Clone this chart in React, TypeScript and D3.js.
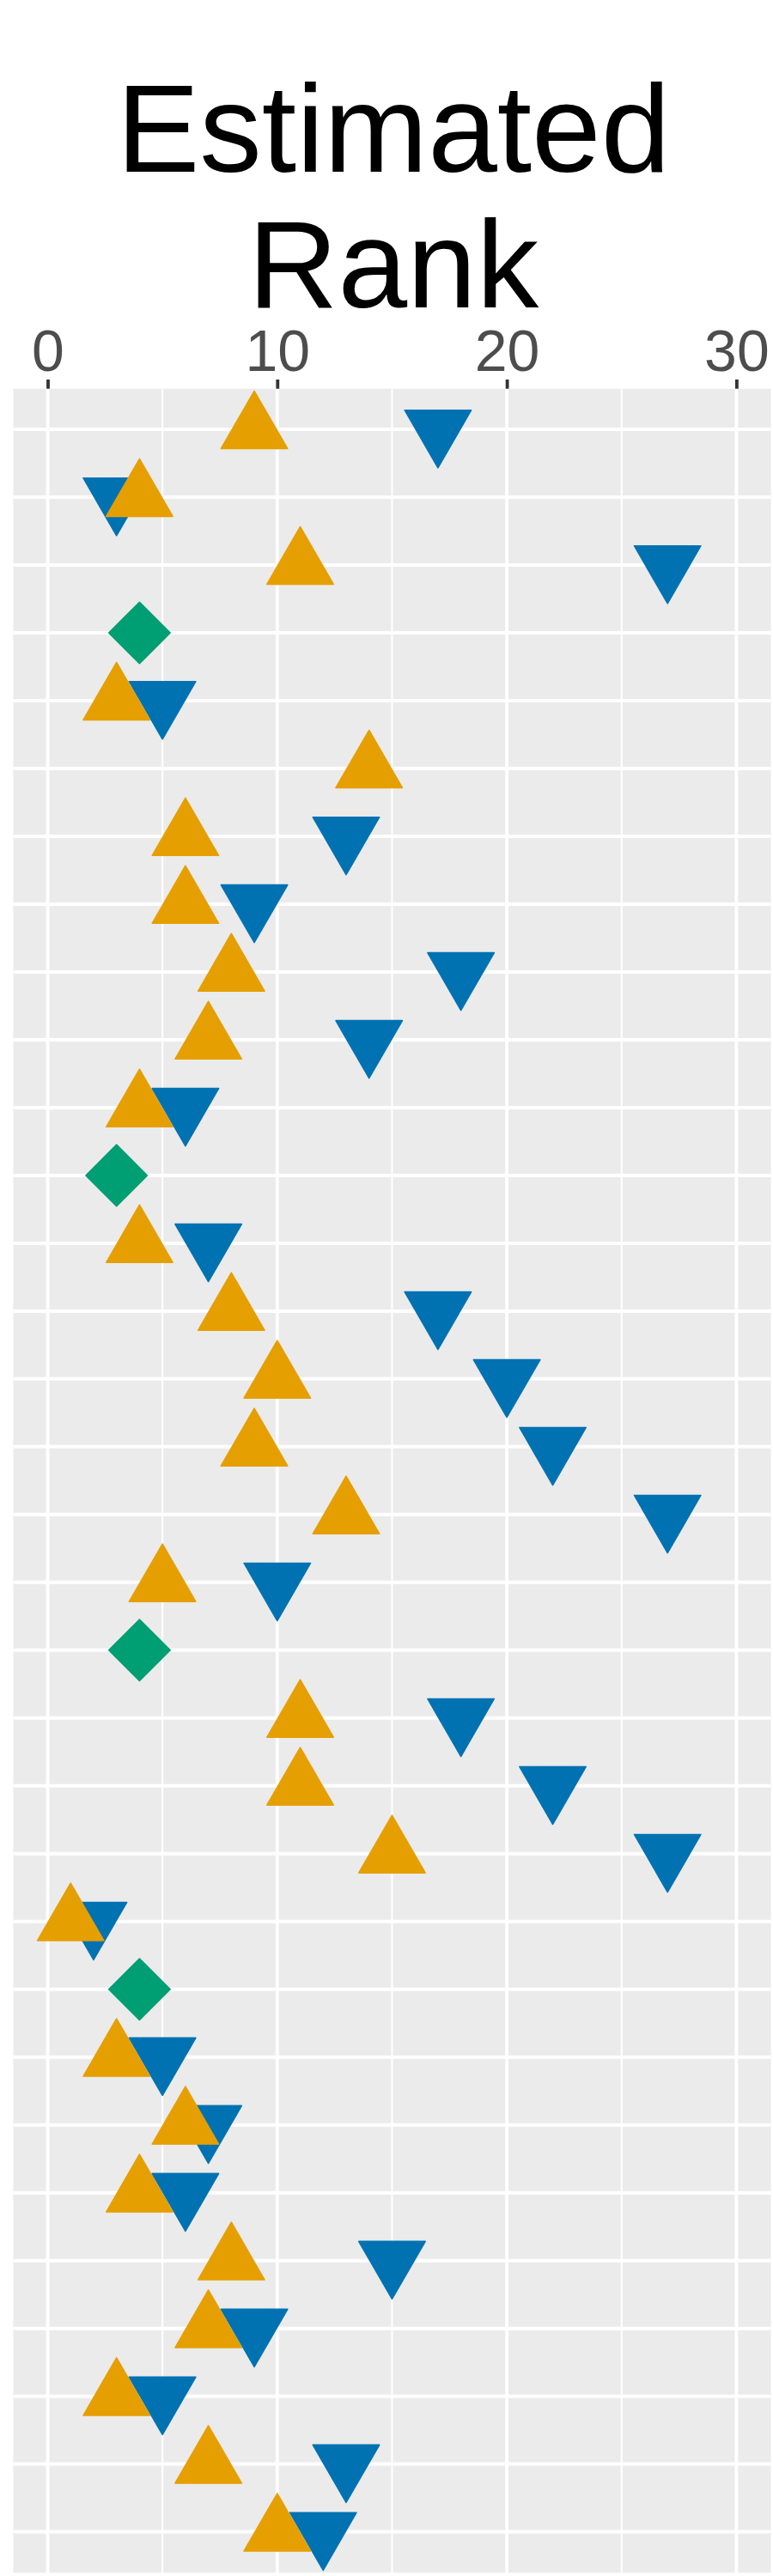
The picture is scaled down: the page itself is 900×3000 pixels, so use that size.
import { useEffect, useRef } from "react";
import * as d3 from "d3";

// one entry per row, top to bottom (null = no point for that series)
const rows = d3.range(1, 33).map(String);
const rankUp: (number | null)[] = [
  9, 4, 11, null, 3, 14, 6, 6, 8, 7, 4, null, 4, 8, 10, 9,
  13, 5, null, 11, 11, 15, 1, null, 3, 6, 4, 8, 7, 3, 7, 10,
];
const rankDown: (number | null)[] = [
  17, 3, 27, null, 5, null, 13, 9, 18, 14, 6, null, 7, 17, 20, 22,
  27, 10, null, 18, 22, 27, 2, null, 5, 7, 6, 15, 9, 5, 13, 12,
];
const rankTie: (number | null)[] = [
  null, null, null, 4, null, null, null, null, null, null, null, 3, null, null, null, null,
  null, null, 4, null, null, null, null, 4, null, null, null, null, null, null, null, null,
];
const xTicks = [0, 10, 20, 30];
const xMinor = [5, 15, 25];

export default function App() {
  const ref = useRef<SVGSVGElement>(null);

  useEffect(() => {
    if (!ref.current) return;
    const svg = d3.select(ref.current);
    svg.selectAll("*").remove();

    const width = 900;
    const panel = { left: 15.4, right: 897.5, top: 452.7, bottom: 2996 };

    const x = d3.scaleLinear().domain([-1.5, 31.5]).range([panel.left, panel.right]);
    const y = d3.scalePoint<string>().domain(rows).range([panel.top, panel.bottom]).padding(0.6);

    // title
    const title = svg.append("text")
      .attr("text-anchor", "middle")
      .attr("font-family", "'Liberation Sans', Arial, sans-serif")
      .attr("font-size", 145)
      .attr("fill", "#000");
    title.append("tspan").attr("x", 458).attr("y", 200).text("Estimated");
    title.append("tspan").attr("x", 458).attr("y", 358).text("Rank");

    // panel
    svg.append("rect")
      .attr("x", panel.left).attr("y", panel.top)
      .attr("width", panel.right - panel.left).attr("height", panel.bottom - panel.top)
      .attr("fill", "#EBEBEB");

    const grid = svg.append("g").attr("stroke", "#fff");
    grid.selectAll(".minor").data(xMinor).join("line")
      .attr("x1", d => x(d)).attr("x2", d => x(d))
      .attr("y1", panel.top).attr("y2", panel.bottom)
      .attr("stroke-width", 2);
    grid.selectAll(".hmajor").data(rows).join("line")
      .attr("x1", panel.left).attr("x2", panel.right)
      .attr("y1", d => y(d)!).attr("y2", d => y(d)!)
      .attr("stroke-width", 4);
    grid.selectAll(".vmajor").data(xTicks).join("line")
      .attr("x1", d => x(d)).attr("x2", d => x(d))
      .attr("y1", panel.top).attr("y2", panel.bottom)
      .attr("stroke-width", 3.8);

    // top axis
    const axis = svg.append("g")
      .attr("transform", `translate(0,${panel.top})`)
      .call(d3.axisTop(x).tickValues(xTicks).tickSize(10.7).tickPadding(10).tickSizeOuter(0));
    axis.select(".domain").remove();
    axis.selectAll("line").attr("stroke", "#333333").attr("stroke-width", 3.8);
    axis.selectAll("text")
      .attr("fill", "#4D4D4D")
      .attr("font-size", 68)
      .attr("font-family", "'Liberation Sans', Arial, sans-serif");

    // points
    const tri = d3.symbol().type(d3.symbolTriangle).size(2600)();
    const dia = d3.symbol().type(d3.symbolSquare).size(2560)();
    const pts = svg.append("g")
      .attr("stroke-width", 1.5)
      .attr("stroke-linejoin", "round");

    const idx = rows.map((_, i) => i);
    pts.selectAll(".down").data(idx.filter(i => rankDown[i] != null)).join("path")
      .attr("d", tri)
      .attr("transform", i => `translate(${x(rankDown[i]!)},${y(rows[i])}) rotate(180)`)
      .attr("fill", "#0072B2").attr("stroke", "#0072B2");
    pts.selectAll(".up").data(idx.filter(i => rankUp[i] != null)).join("path")
      .attr("d", tri)
      .attr("transform", i => `translate(${x(rankUp[i]!)},${y(rows[i])})`)
      .attr("fill", "#E69F00").attr("stroke", "#E69F00");
    pts.selectAll(".tie").data(idx.filter(i => rankTie[i] != null)).join("path")
      .attr("d", dia)
      .attr("transform", i => `translate(${x(rankTie[i]!)},${y(rows[i])}) rotate(45)`)
      .attr("fill", "#009E73").attr("stroke", "#009E73");

    svg.attr("width", width);
  }, []);

  return (
    <svg
      ref={ref}
      width={900}
      height={3000}
      style={{ position: "absolute", left: 0, top: 0, background: "#fff" }}
    />
  );
}
